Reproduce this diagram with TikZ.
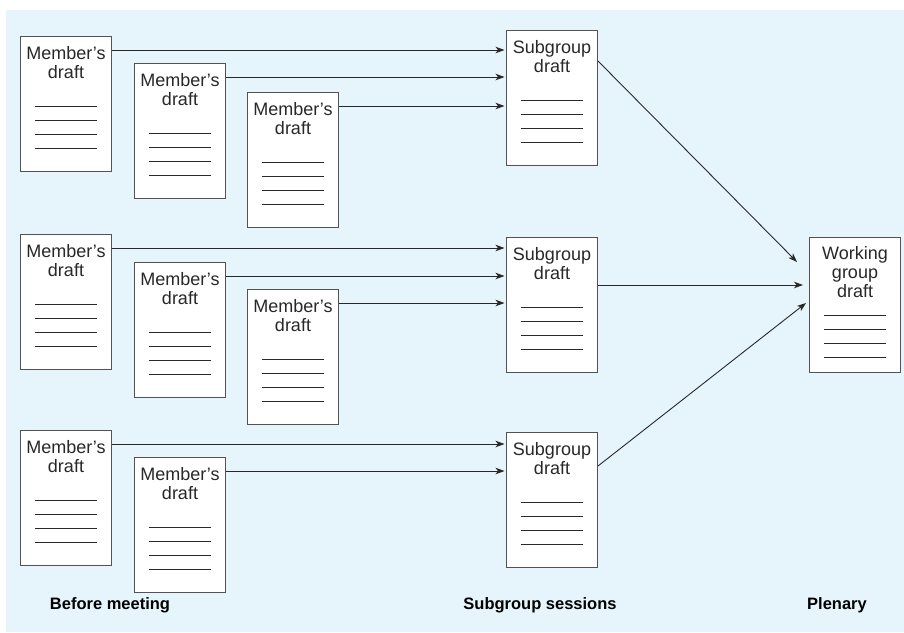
\documentclass[tikz,border=0pt]{standalone}
\usepackage{fontspec}
\setmainfont{Liberation Sans}
\usetikzlibrary{arrows.meta,positioning}
\definecolor{paleblue}{RGB}{230,244,252}
\definecolor{ink}{RGB}{40,40,40}
\tikzstyle{sheet}=[draw=ink!80,fill=white,line width=1pt,minimum width=91pt,minimum height=135pt,inner sep=0pt,anchor=north west]
\tikzstyle{heading}=[text=ink,align=center,inner sep=0pt,anchor=base,font=\fontsize{18}{19}\selectfont]
\tikzstyle{rule}=[draw=ink,line width=0.8pt]
\tikzstyle{feed}=[draw=ink,line width=0.9pt,-{Stealth[length=9pt,width=6.5pt,inset=2.5pt]}]
\tikzstyle{stage}=[text=black,inner sep=0pt,font=\bfseries\fontsize{16.5}{18}\selectfont]

\newcommand\draftsheet[6]{%
  \node[sheet] (#1) at (#2,#3) {};
  \node[heading] (#1h) at ([yshift=-#5pt]#1.north) {#4};
  \foreach \k in {0,...,3}
    \draw[rule] ([yshift=-#6pt-14pt*\k]#1.north) +(-31pt,0) -- +(31pt,0);
}

\begin{document}
\begin{tikzpicture}[x=1pt,y=-1pt]
  \useasboundingbox (0,0) rectangle (904,632);
  \fill[paleblue] (6,10) rectangle (904,632);

  \draftsheet{m11}{20}{36}{Member’s\\draft}{42.5}{70}
  \draftsheet{m12}{134}{63}{Member’s\\draft}{42.5}{70}
  \draftsheet{m13}{247}{92}{Member’s\\draft}{42.5}{70}
  \draftsheet{m21}{20}{234}{Member’s\\draft}{42.5}{70}
  \draftsheet{m22}{134}{262}{Member’s\\draft}{42.5}{70}
  \draftsheet{m23}{247}{289}{Member’s\\draft}{42.5}{70}
  \draftsheet{m31}{20}{430}{Member’s\\draft}{42.5}{70}
  \draftsheet{m32}{134}{457}{Member’s\\draft}{42.5}{70}

  \draftsheet{s1}{506}{30}{Subgroup\\draft}{42}{70}
  \draftsheet{s2}{506}{237}{Subgroup\\draft}{42}{70}
  \draftsheet{s3}{506}{432}{Subgroup\\draft}{42}{70}

  \draftsheet{w}{809}{237}{Working\\group\\draft}{60.5}{78}

  \foreach \m/\s in {m11/s1,m12/s1,m13/s1,m21/s2,m22/s2,m23/s2,m31/s3,m32/s3}{
    \coordinate (\m o) at ([yshift=-14pt]\m.north east);
    \draw[feed] (\m o) -- ([xshift=-1.5pt]\m o -| \s.west);
  }

  \draw[feed] ([yshift=-31pt]s1.north east) -- ([shift={(-12,25)}]w.north west);
  \draw[feed] ([yshift=-48pt]s2.north east) -- ([shift={(-6,48)}]w.north west);
  \draw[feed] ([yshift=-34pt]s3.north east) -- ([shift={(-3,66)}]w.north west);

  \node[stage] (before) at (110,605) {Before meeting};
  \node[stage] (sessions) at (540,605) {Subgroup sessions};
  \node[stage] (plenary) at (837,605) {Plenary};
\end{tikzpicture}
\end{document}
